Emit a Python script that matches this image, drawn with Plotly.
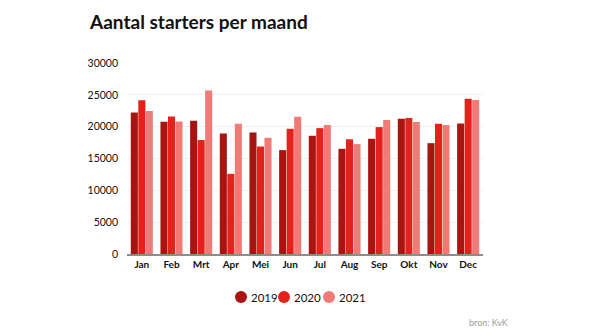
import plotly.graph_objects as go

months = ["Jan", "Feb", "Mrt", "Apr", "Mei", "Jun", "Jul", "Aug", "Sep", "Okt", "Nov", "Dec"]
v2019 = [22240, 20770, 20930, 18930, 19090, 16310, 18570, 16520, 18100, 21240, 17410, 20510]
v2020 = [24130, 21610, 17900, 12590, 16890, 19670, 19770, 18040, 19930, 21350, 20450, 24390]
v2021 = [22450, 20800, 25700, 20450, 18250, 21560, 20250, 17260, 21030, 20720, 20250, 24180]
years = ["2019", "2020", "2021"]
colors = ["#a8140f", "#e5211b", "#f07b76"]
yticks = [0, 5000, 10000, 15000, 20000, 25000, 30000]

L, R, T, B = 127, 114, 63, 82
W, H = 597, 336
pw, ph = W - L - R, H - T - B

def px(x):
    return (x - L) / pw

def py(y):
    return (H - B - y) / ph

fig = go.Figure()
for name, vals, col in zip(years, [v2019, v2020, v2021], colors):
    fig.add_trace(go.Bar(x=months, y=vals, name=name, marker_color=col,
                         marker_line_width=0, showlegend=False))

# custom compact legend
legend_x = [241, 284, 329]
shapes = []
annotations = []
for name, col, cx in zip(years, colors, legend_x):
    shapes.append(dict(type="circle", xref="paper", yref="paper", xsizemode="pixel",
                       ysizemode="pixel", xanchor=px(cx), yanchor=py(297),
                       x0=-6, x1=6, y0=-6, y1=6, fillcolor=col, line_width=0))
    annotations.append(dict(text=name, x=px(cx + 8), y=py(297), xref="paper", yref="paper",
                            xanchor="left", yanchor="middle", showarrow=False,
                            font=dict(size=11.5, color="#111111")))
annotations.append(dict(text="bron: KvK", x=px(488), y=py(322), xref="paper", yref="paper",
                        xanchor="center", yanchor="middle", showarrow=False,
                        font=dict(size=9, color="#9a9a9a")))

fig.update_layout(
    width=W, height=H,
    margin=dict(l=L, r=R, t=T, b=B),
    paper_bgcolor="white", plot_bgcolor="white",
    barmode="group", bargap=0.24, bargroupgap=0.06,
    font=dict(family="Lato, sans-serif", color="#111111"),
    title=dict(text="<b>Aantal starters per maand</b>", x=90 / W, xanchor="left",
               y=1 - 22 / H, yanchor="middle", font=dict(size=19, color="#111111")),
    showlegend=False,
    shapes=shapes,
    annotations=annotations,
)

fig.update_xaxes(type="category", showgrid=False, showline=True, linecolor="#8c8c8c",
                 linewidth=1.5, ticks="", tickfont=dict(size=10, color="#111111"),
                 tickprefix="<b>", ticksuffix="</b>")
fig.update_yaxes(range=[0, 30000], tickvals=yticks, showgrid=True, gridcolor="#efefef",
                 gridwidth=1, zeroline=False, tickfont=dict(size=10.5, color="#111111"),
                 tickformat="d", ticklabelstandoff=8)

fig.write_html("out.html")
